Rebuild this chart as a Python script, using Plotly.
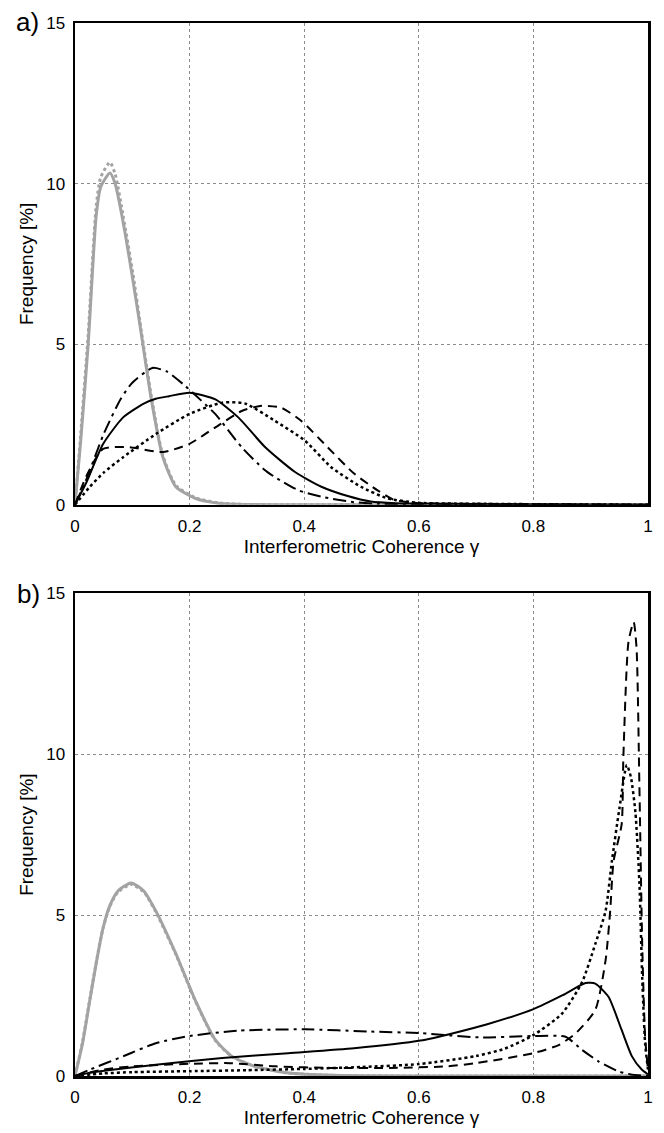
import plotly.graph_objects as go

# ---------------- Panel a) data ----------------
a_gray_x = [0, 0.01, 0.023, 0.037, 0.045, 0.061, 0.07, 0.084, 0.101, 0.115, 0.133, 0.153, 0.176, 0.21, 0.25, 0.3, 0.4, 1.0]
a_gray_y = [0, 2.0, 5.0, 9.0, 9.9, 10.33, 10.0, 8.8, 7.0, 5.4, 3.3, 1.5, 0.56, 0.2, 0.05, 0.01, 0.0, 0.0]
a_graydot_y = [0, 2.2, 5.3, 9.3, 10.2, 10.66, 10.3, 9.0, 7.2, 5.5, 3.4, 1.55, 0.6, 0.22, 0.06, 0.01, 0.0, 0.0]

a_solid_x = [0, 0.02, 0.049, 0.084, 0.12, 0.141, 0.164, 0.2, 0.245, 0.285, 0.332, 0.384, 0.43, 0.476, 0.516, 0.56, 0.6, 0.7, 1.0]
a_solid_y = [0, 0.7, 1.89, 2.72, 3.15, 3.3, 3.38, 3.49, 3.28, 2.72, 1.79, 1.02, 0.56, 0.27, 0.1, 0.05, 0.04, 0.02, 0.0]

a_dashdot_x = [0, 0.02, 0.05, 0.08, 0.1, 0.135, 0.16, 0.193, 0.22, 0.245, 0.291, 0.33, 0.349, 0.39, 0.43, 0.487, 0.53, 0.6, 1.0]
a_dashdot_y = [0, 0.8, 2.2, 3.3, 3.8, 4.26, 4.15, 3.69, 3.25, 2.82, 1.79, 1.1, 0.86, 0.45, 0.25, 0.08, 0.03, 0.01, 0.0]

a_dot_x = [0, 0.026, 0.05, 0.084, 0.141, 0.199, 0.257, 0.297, 0.349, 0.401, 0.447, 0.499, 0.545, 0.6, 0.7, 1.0]
a_dot_y = [0, 0.56, 1.0, 1.48, 2.2, 2.82, 3.18, 3.15, 2.61, 2.0, 1.17, 0.56, 0.2, 0.06, 0.03, 0.0]

a_dash_x = [0, 0.02, 0.049, 0.095, 0.153, 0.199, 0.245, 0.291, 0.326, 0.36, 0.395, 0.441, 0.487, 0.528, 0.557, 0.6, 0.7, 1.0]
a_dash_y = [0, 0.9, 1.74, 1.79, 1.64, 1.89, 2.41, 2.92, 3.08, 3.02, 2.61, 1.79, 0.97, 0.45, 0.15, 0.05, 0.03, 0.0]

# ---------------- Panel b) data ----------------
b_gray_x = [0, 0.013, 0.026, 0.038, 0.049, 0.061, 0.075, 0.098, 0.12, 0.141, 0.176, 0.21, 0.245, 0.274, 0.314, 0.37, 0.45, 1.0]
b_gray_y = [0, 1.0, 2.37, 3.6, 4.6, 5.3, 5.75, 6.0, 5.75, 5.13, 3.8, 2.35, 1.12, 0.61, 0.3, 0.1, 0.02, 0.0]
b_graydot_y = [0, 1.05, 2.4, 3.62, 4.6, 5.28, 5.72, 5.95, 5.72, 5.1, 3.78, 2.33, 1.1, 0.6, 0.3, 0.1, 0.02, 0.0]

b_dashdot_x = [0, 0.026, 0.084, 0.141, 0.199, 0.285, 0.401, 0.516, 0.603, 0.706, 0.799, 0.856, 0.885, 0.914, 0.949, 0.97, 1.0]
b_dashdot_y = [0, 0.2, 0.61, 1.02, 1.24, 1.41, 1.45, 1.38, 1.33, 1.2, 1.24, 1.22, 0.81, 0.45, 0.14, 0.05, 0.0]

b_solid_x = [0, 0.026, 0.141, 0.257, 0.372, 0.487, 0.603, 0.66, 0.718, 0.799, 0.851, 0.891, 0.908, 0.931, 0.954, 0.972, 0.989, 1.0]
b_solid_y = [0, 0.1, 0.35, 0.56, 0.71, 0.86, 1.1, 1.33, 1.6, 2.07, 2.51, 2.89, 2.87, 2.46, 1.43, 0.61, 0.2, 0.05]

b_dot_x = [0, 0.05, 0.1, 0.2, 0.3, 0.4, 0.5, 0.6, 0.7, 0.75, 0.8, 0.85, 0.885, 0.908, 0.926, 0.937, 0.95, 0.963, 0.97, 0.978, 0.985, 0.99, 0.995, 1.0]
b_dot_y = [0, 0.08, 0.12, 0.15, 0.18, 0.22, 0.28, 0.37, 0.62, 0.85, 1.27, 1.94, 2.92, 4.1, 5.13, 6.68, 8.3, 9.66, 9.3, 8.2, 6.0, 3.0, 1.0, 0.2]

b_dash_x = [0, 0.05, 0.1, 0.2, 0.27, 0.35, 0.45, 0.55, 0.65, 0.7, 0.8, 0.845, 0.874, 0.908, 0.926, 0.934, 0.94, 0.954, 0.957, 0.966, 0.975, 0.98, 0.985, 0.99, 0.995, 1.0]
b_dash_y = [0, 0.2, 0.3, 0.38, 0.4, 0.3, 0.25, 0.25, 0.3, 0.4, 0.71, 0.97, 1.33, 2.05, 3.6, 5.13, 6.68, 7.82, 9.9, 13.5, 14.1, 13.3, 9.0, 4.0, 1.2, 0.2]

# ---------------- ticks / labels ----------------
x_ticks = [0, 0.2, 0.4, 0.6, 0.8, 1]
x_tick_labels = ["0", "0.2", "0.4", "0.6", "0.8", "1"]
y_ticks = [0, 5, 10, 15]
y_tick_labels = ["0", "5", "10", "15"]
x_title = "Interferometric Coherence γ"
y_title = "Frequency [%]"
panel_labels = ["a)", "b)"]

GRAY = "#a3a3a3"
BLACK = "#000000"
DASHDOT = "13px,5px,3px,5px"
DASH = "9px,6px"

fig = go.Figure()


def add(x, y, color, width, dash, xa, ya):
    fig.add_trace(go.Scatter(
        x=x, y=y, mode="lines", xaxis=xa, yaxis=ya,
        line=dict(color=color, width=width, dash=dash, shape="spline", smoothing=0.6),
        showlegend=False, hoverinfo="skip"))


# panel a
add(a_gray_x, a_graydot_y, GRAY, 3, "dot", "x", "y")
add(a_gray_x, a_gray_y, GRAY, 3, "solid", "x", "y")
add(a_dashdot_x, a_dashdot_y, BLACK, 2, DASHDOT, "x", "y")
add(a_dot_x, a_dot_y, BLACK, 2.5, "dot", "x", "y")
add(a_dash_x, a_dash_y, BLACK, 2, DASH, "x", "y")
add(a_solid_x, a_solid_y, BLACK, 2, "solid", "x", "y")

# panel b
add(b_gray_x, b_graydot_y, GRAY, 3, "dot", "x2", "y2")
add(b_gray_x, b_gray_y, GRAY, 3, "solid", "x2", "y2")
add(b_dashdot_x, b_dashdot_y, BLACK, 2, DASHDOT, "x2", "y2")
add(b_dot_x, b_dot_y, BLACK, 2.5, "dot", "x2", "y2")
add(b_dash_x, b_dash_y, BLACK, 2, DASH, "x2", "y2")
add(b_solid_x, b_solid_y, BLACK, 2, "solid", "x2", "y2")

FONT = "Liberation Sans, Arial, sans-serif"

xaxis_common = dict(
    range=[0, 1], tickvals=x_ticks, ticktext=x_tick_labels,
    showgrid=True, gridcolor="#8c8c8c", gridwidth=1, griddash="dot",
    showline=True, linecolor="black", linewidth=2.5, mirror=True,
    ticks="outside", ticklen=4, tickcolor="rgba(0,0,0,0)",
    tickfont=dict(size=17, color="black", family=FONT),
    title=dict(text=x_title, font=dict(size=19, color="black", family=FONT), standoff=2),
    zeroline=False, fixedrange=True,
)
yaxis_common = dict(
    range=[0, 15], tickvals=y_ticks, ticktext=y_tick_labels,
    showgrid=True, gridcolor="#8c8c8c", gridwidth=1, griddash="dot",
    showline=True, linecolor="black", linewidth=2.5, mirror=True,
    ticks="outside", ticklen=4, tickcolor="rgba(0,0,0,0)",
    tickfont=dict(size=17, color="black", family=FONT),
    title=dict(text=y_title, font=dict(size=19, color="black", family=FONT), standoff=8),
    zeroline=False, fixedrange=True,
)

fig.update_layout(
    width=664, height=1133,
    margin=dict(l=75, r=11, t=23, b=50),
    paper_bgcolor="white", plot_bgcolor="white",
    font=dict(family=FONT, color="black"),
    xaxis=dict(xaxis_common, anchor="y"),
    yaxis=dict(yaxis_common, domain=[0.5425, 1.0], anchor="x"),
    xaxis2=dict(xaxis_common, anchor="y2"),
    yaxis2=dict(yaxis_common, domain=[0.0, 0.4585], anchor="x2"),
    annotations=[
        dict(text=panel_labels[0], xref="paper", yref="paper", x=-0.083, y=1.001,
             xanchor="center", yanchor="middle", showarrow=False,
             font=dict(size=26, color="black", family=FONT)),
        dict(text=panel_labels[1], xref="paper", yref="paper", x=-0.081, y=0.4575,
             xanchor="center", yanchor="middle", showarrow=False,
             font=dict(size=26, color="black", family=FONT)),
    ],
)

# remove the default page margin so the 664x1133 figure fills the window exactly
fig.write_html(
    "out.html",
    config={"displayModeBar": False, "staticPlot": True},
    post_script="document.body.style.margin='0px';document.body.style.overflow='hidden';",
)
